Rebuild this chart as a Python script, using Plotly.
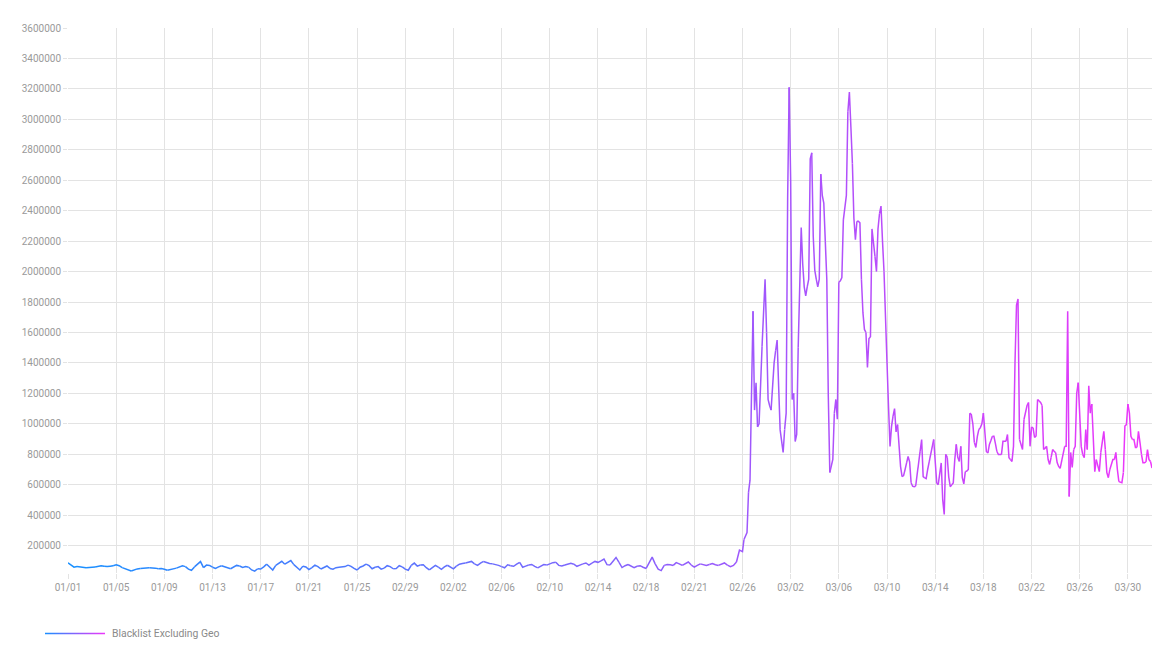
import numpy as np
import plotly.graph_objects as go

series_name = "Blacklist Excluding Geo"

tick_labels = ["01/01", "01/05", "01/09", "01/13", "01/17", "01/21", "01/25", "02/29",
               "02/02", "02/06", "02/10", "02/14", "02/18", "02/21", "02/26", "03/02",
               "03/06", "03/10", "03/14", "03/18", "03/22", "03/26", "03/30"]
tick_days = list(range(0, 89, 4))
y_ticks = list(range(200000, 3600001, 200000))

# 6-hourly values, day 0 .. 55.75
values_jan_feb = [
    87000, 74000, 58000, 62000, 60000, 57000, 55000, 58000, 62000, 60000,
    66000, 68000, 64000, 62000, 65000, 68000, 74000, 68000, 55000, 48000,
    40000, 33000, 42000, 47000, 50000, 52000, 53000, 54000, 55000, 52000,
    48000, 50000, 45000, 38000, 42000, 46000, 52000, 60000, 68000, 62000,
    45000, 38000, 60000, 80000, 95000, 55000, 72000, 70000, 58000, 50000,
    60000, 68000, 62000, 52000, 48000, 58000, 70000, 66000, 56000, 62000,
    58000, 40000, 32000, 48000, 46000, 60000, 78000, 60000, 40000, 70000,
    85000, 97000, 78000, 90000, 102000, 75000, 55000, 40000, 65000, 60000,
    42000, 55000, 72000, 62000, 46000, 58000, 66000, 50000, 45000, 55000,
    58000, 60000, 62000, 72000, 64000, 50000, 40000, 58000, 66000, 78000,
    68000, 48000, 58000, 62000, 45000, 52000, 68000, 62000, 48000, 50000,
    68000, 60000, 45000, 38000, 70000, 85000, 65000, 72000, 74000, 55000,
    40000, 55000, 70000, 58000, 44000, 60000, 71000, 58000, 47000, 65000,
    78000, 82000, 86000, 90000, 96000, 80000, 70000, 85000, 96000, 88000,
    82000, 80000, 76000, 70000, 62000, 54000, 74000, 68000, 64000, 78000,
    90000, 58000, 65000, 72000, 76000, 64000, 54000, 68000, 76000, 72000,
    80000, 88000, 90000, 70000, 66000, 72000, 76000, 84000, 78000, 64000,
    72000, 80000, 86000, 72000, 85000, 96000, 90000, 100000, 112000, 75000,
    72000, 100000, 122000, 90000, 56000, 68000, 76000, 65000, 55000, 64000,
    68000, 58000, 50000, 88000, 124000, 80000, 45000, 36000, 70000, 76000,
    74000, 70000, 88000, 80000, 70000, 82000, 92000, 72000, 58000, 70000,
    80000, 74000, 70000, 76000, 82000, 74000, 70000, 78000, 86000, 72000,
    62000, 70000, 92000, 170000,
]

# 3-hourly values, day 56 .. 90
values_feb_mar = [
    160000, 240000, 260000, 285000, 550000, 630000, 1200000, 1740000, 1090000, 1270000,
    980000, 1000000, 1250000, 1510000, 1800000, 1950000, 1600000, 1160000, 1120000, 1090000,
    1250000, 1400000, 1480000, 1550000, 1250000, 960000, 880000, 812000, 963000, 1070000,
    2490000, 3210000, 2600000, 1160000, 1200000, 884000, 930000, 1500000, 1900000, 2290000,
    2050000, 1900000, 1840000, 1900000, 1950000, 2740000, 2780000, 2230000, 2010000, 1950000,
    1900000, 1950000, 2640000, 2500000, 2450000, 2200000, 1950000, 1180000, 680000, 720000,
    766000, 1070000, 1160000, 1030000, 1930000, 1940000, 1960000, 2340000, 2420000, 2500000,
    3050000, 3180000, 2950000, 2710000, 2350000, 2210000, 2330000, 2330000, 2320000, 1950000,
    1730000, 1620000, 1600000, 1370000, 1560000, 1570000, 2280000, 2190000, 2100000, 2000000,
    2280000, 2380000, 2430000, 2200000, 2000000, 1750000, 1400000, 1110000, 851000, 983000,
    1050000, 1100000, 947000, 995000, 850000, 719000, 653000, 660000, 700000, 743000,
    785000, 750000, 613000, 590000, 587000, 590000, 660000, 743000, 820000, 897000,
    653000, 645000, 640000, 700000, 750000, 800000, 851000, 897000, 750000, 613000,
    600000, 670000, 743000, 500000, 404000, 800000, 780000, 650000, 587000, 600000,
    612000, 765000, 865000, 780000, 753000, 852000, 646000, 606000, 686000, 690000,
    700000, 1070000, 1060000, 1000000, 878000, 845000, 918000, 963000, 975000, 1000000,
    1070000, 918000, 818000, 808000, 865000, 890000, 918000, 918000, 870000, 818000,
    798000, 798000, 798000, 885000, 885000, 885000, 930000, 778000, 765000, 753000,
    852000, 1400000, 1780000, 1820000, 897000, 860000, 831000, 1030000, 1080000, 1120000,
    1140000, 852000, 975000, 975000, 910000, 920000, 1160000, 1150000, 1140000, 1120000,
    831000, 840000, 852000, 765000, 733000, 780000, 831000, 820000, 810000, 745000,
    720000, 707000, 753000, 800000, 852000, 852000, 1740000, 523000, 812000, 713000,
    831000, 852000, 1200000, 1270000, 1030000, 850000, 798000, 778000, 963000, 831000,
    1250000, 1070000, 1130000, 918000, 686000, 765000, 720000, 686000, 812000, 890000,
    951000, 831000, 680000, 646000, 700000, 740000, 765000, 765000, 812000, 700000,
    620000, 615000, 613000, 680000, 985000, 995000, 1130000, 1070000, 918000, 897000,
    897000, 845000, 845000, 951000, 878000, 800000, 745000, 745000, 750000, 831000,
    765000, 753000, 710000,
]

days = np.concatenate([np.arange(len(values_jan_feb)) * 0.25,
                       56 + np.arange(len(values_feb_mar)) * 0.125])
values = np.array(values_jan_feb + values_feb_mar, dtype=float)

x_max = 90.0
c_start = np.array([24, 144, 255])
c_end = np.array([238, 54, 250])


def grad(f):
    c = c_start + (c_end - c_start) * min(max(f, 0), 1)
    return "rgb(%d,%d,%d)" % tuple(c.round().astype(int))


fig = go.Figure()
seg = 3
n = len(days)
for s in range(0, n - 1, seg):
    e = min(s + seg, n - 1)
    xm = (days[s] + days[e]) / 2
    fig.add_trace(go.Scatter(
        x=days[s:e + 1], y=values[s:e + 1], mode="lines",
        line=dict(color=grad(xm / x_max), width=1.5),
        showlegend=False, hoverinfo="skip", name=series_name))

# plot area (page pixels): left 68, right 1152, top 28, bottom 573.5
L = 68
W = 1084
H = 545.5
B = 573.5
lx0, lx1, ly = 45, 105, 634
steps = 30
for k in range(steps):
    a = lx0 + (lx1 - lx0) * k / steps
    b = lx0 + (lx1 - lx0) * (k + 1) / steps
    fig.add_shape(type="line", xref="paper", yref="paper",
                  x0=(a - L) / W, x1=(b - L) / W,
                  y0=(B - ly) / H, y1=(B - ly) / H,
                  line=dict(color=grad((k + 0.5) / steps), width=1.5))
fig.add_annotation(text=series_name, xref="paper", yref="paper",
                   x=(110 - L) / W, y=(B - ly) / H, xanchor="left", yanchor="middle",
                   showarrow=False, font=dict(size=10.4, color="#8a8a8a", family="Roboto"))

grid = "#e3e3e3"
# the page body has an 8px margin, so the figure is offset by 8px
fig.update_layout(
    width=1166, height=641,
    margin=dict(l=60, r=22, t=20, b=75.5),
    paper_bgcolor="white", plot_bgcolor="white",
    font=dict(family="Roboto", size=10, color="#9a9a9a"),
    showlegend=False,
    xaxis=dict(range=[0, x_max], tickmode="array", tickvals=tick_days, ticktext=tick_labels,
               showgrid=True, gridcolor=grid, gridwidth=1, zeroline=False,
               ticks="outside", ticklen=5, tickcolor=grid, showline=False,
               tickfont=dict(size=10, color="#9a9a9a")),
    yaxis=dict(range=[20000, 3600000], tickmode="array", tickvals=y_ticks,
               ticktext=[str(v) for v in y_ticks],
               showgrid=True, gridcolor=grid, gridwidth=1, zeroline=False,
               ticks="outside", ticklen=4, tickcolor=grid, showline=False,
               tickfont=dict(size=10, color="#9a9a9a")),
)

fig.write_html("out.html")
